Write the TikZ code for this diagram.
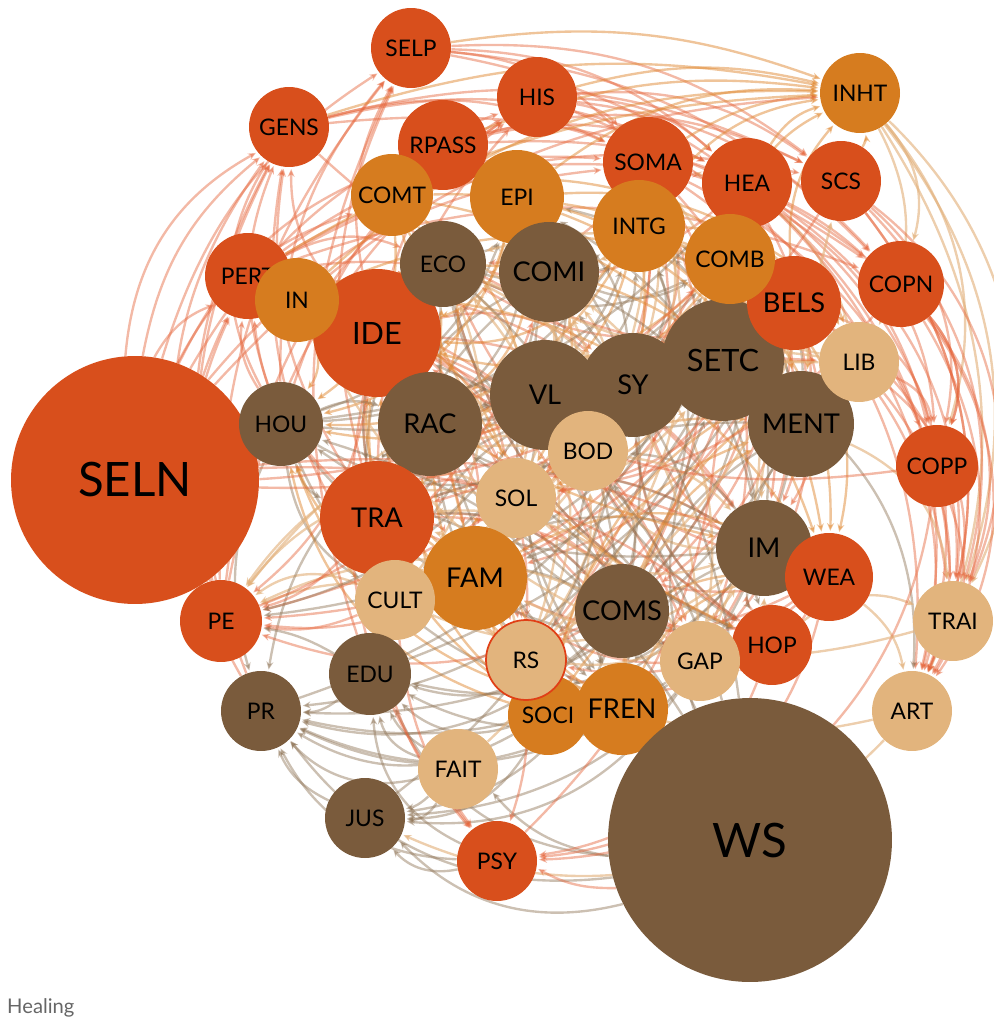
\documentclass[tikz,border=0pt]{standalone}
\usepackage{fontspec}
\setmainfont{Lato}
\usetikzlibrary{arrows.meta}
\pgfdeclarelayer{edges}
\pgfsetlayers{edges,main}
\definecolor{nodered}{HTML}{D84F1C}
\definecolor{nodeorange}{HTML}{D67C1F}
\definecolor{nodebrown}{HTML}{7A5B3C}
\definecolor{nodetan}{HTML}{E2B47D}
\definecolor{edgered}{HTML}{E5643A}
\definecolor{edgeorange}{HTML}{E08A35}
\definecolor{edgebrown}{HTML}{8E7355}
\definecolor{edgetan}{HTML}{E2B07A}
\tikzset{
    bubble/.style={circle, inner sep=0pt, text=black},
    nR/.style={bubble, fill=nodered},
    nO/.style={bubble, fill=nodeorange},
    nB/.style={bubble, fill=nodebrown},
    nT/.style={bubble, fill=nodetan},
    rad/.style={minimum size=#1*0.4mm},
    small/.style={font=\fontsize{13}{13}\selectfont},
    mid/.style={font=\fontsize{15.5}{15.5}\selectfont},
    big/.style={font=\fontsize{17.5}{17.5}\selectfont},
    huge/.style={font=\fontsize{27}{27}\selectfont},
    % connectors, coloured after their source
    link/.style={line width=1.35pt, -{Stealth[length=4.5pt, width=4pt]}, shorten >=1pt},
    eR/.style={link, draw=edgered, opacity=0.45},
    eO/.style={link, draw=edgeorange, opacity=0.5},
    eB/.style={link, draw=edgebrown, opacity=0.45},
    eT/.style={link, draw=edgetan, opacity=0.62}
}
\begin{document}
\begin{tikzpicture}[x=0.02cm, y=-0.02cm]
	\useasboundingbox (0,0) rectangle (993,1020);

	\node[nR, rad=124, huge] (SELN) at (135,480) {SELN};
	\node[nR, rad=40, small] (SELP) at (411,48) {SELP};
	\node[nR, rad=40, small] (HIS) at (537,97) {HIS};
	\node[nR, rad=40, small] (GENS) at (289,127) {GENS};
	\node[nR, rad=45, small] (RPASS) at (443,145) {RPASS};
	\node[nO, rad=41, small] (COMT) at (392,195) {COMT};
	\node[nO, rad=47, small] (EPI) at (517,197) {EPI};
	\node[nR, rad=45, small] (SOMA) at (648,162) {SOMA};
	\node[nR, rad=45, small] (HEA) at (747,183) {HEA};
	\node[nR, rad=40, small] (SCS) at (841,181) {SCS};
	\node[nO, rad=40, small] (INHT) at (860,93) {INHT};
	\node[nO, rad=46, small] (INTG) at (639,226) {INTG};
	\node[nB, rad=50, mid] (COMI) at (549,272) {COMI};
	\node[nR, rad=43, small] (PERT) at (248,276) {PERT};
	\node[nR, rad=64, big] (IDE) at (377,333) {IDE};
	\node[nB, rad=43, small] (ECO) at (443,264) {ECO};
	\node[nO, rad=42, small] (IN) at (297,300) {IN};
	\node[nB, rad=61, big] (SETC) at (723,360) {SETC};
	\node[nR, rad=47, mid] (BELS) at (794,303) {BELS};
	\node[nO, rad=45, small] (COMB) at (730,259) {COMB};
	\node[nR, rad=43, small] (COPN) at (901,284) {COPN};
	\node[nB, rad=53, mid] (MENT) at (801,424) {MENT};
	\node[nT, rad=40, small] (LIB) at (859,362) {LIB};
	\node[nB, rad=55, mid] (VL) at (545,395) {VL};
	\node[nB, rad=52, mid] (SY) at (633,385) {SY};
	\node[nT, rad=40, small] (BOD) at (588,451) {BOD};
	\node[nB, rad=42, small] (HOU) at (281,424) {HOU};
	\node[nB, rad=52, mid] (RAC) at (430,424) {RAC};
	\node[nT, rad=40, small] (SOL) at (516,498) {SOL};
	\node[nR, rad=41, small] (COPP) at (937,466) {COPP};
	\node[nR, rad=57, mid] (TRA) at (377,518) {TRA};
	\node[nO, rad=52, mid] (FAM) at (475,578) {FAM};
	\node[nT, rad=40, small] (CULT) at (395,600) {CULT};
	\node[nB, rad=48, mid] (IM) at (764,548) {IM};
	\node[nR, rad=44, small] (WEA) at (829,577) {WEA};
	\node[nB, rad=47, mid] (COMS) at (622,611) {COMS};
	\node[nR, rad=41, small] (PE) at (221,621) {PE};
	\node[nT, rad=40, small] (TRAI) at (953,621) {TRAI};
	\node[nO, rad=40, small] (SOCI) at (548,715) {SOCI};
	\node[nT, rad=40, small, draw=nodered!80!red, line width=1pt] (RS) at (526,660) {RS};
	\node[nO, rad=46, mid] (FREN) at (622,709) {FREN};
	\node[nR, rad=40, small] (HOP) at (772,645) {HOP};
	\node[nT, rad=40, small] (GAP) at (700,661) {GAP};
	\node[nB, rad=41, small] (EDU) at (370,674) {EDU};
	\node[nB, rad=40, small] (PR) at (261,711) {PR};
	\node[nT, rad=40, small] (ART) at (912,711) {ART};
	\node[nT, rad=40, small] (FAIT) at (458,769) {FAIT};
	\node[nB, rad=40, small] (JUS) at (365,818) {JUS};
	\node[nR, rad=40, small] (PSY) at (497,861) {PSY};
	\node[nB, rad=142, huge] (WS) at (750,840) {WS};

	\node[anchor=base west, text=black!60, font=\fontsize{11.5}{11.5}\selectfont] (credit) at (1,1013) {Healing};

	\begin{pgfonlayer}{edges}
	% outer rings
	\foreach \src in {SELN,PE,TRA,IDE,HOU}
		\foreach \dst in {GENS,SELP,HIS,PERT}
			\draw[eR] (\src) to[bend left=20] (\dst);
	\foreach \src in {GENS,SELP,HIS,RPASS,PERT}
		\foreach \dst in {HEA,SCS,COPN,SOMA}
			\draw[eR] (\src) to[bend left=20] (\dst);
	\foreach \src in {SELP,HIS,RPASS,GENS,SOMA,PERT}
		\draw[eO] (\src) to[bend left=14] (INHT);
	\foreach \dst in {COPN,COPP,LIB,TRAI,ART}
		\draw[eT] (INHT) to[bend left=28] (\dst);
	\foreach \src in {SCS,HEA,COPN,BELS,SOMA,LIB}
		\foreach \dst in {COPP,TRAI,ART}
			\draw[eR] (\src) to[bend left=30] (\dst);
	\foreach \src in {WS,FAIT,PSY,SOCI,GAP,COMS,IM}
		\foreach \dst in {PR,JUS,EDU}
			\draw[eB] (\src) to[bend left=30] (\dst);
	% central tangle
	\foreach \src in {IDE,TRA,HEA,BELS,SOMA,HOP,WEA,PERT}
		\foreach \dst in {COMS,IM,SOL,GAP,RS,ECO,FAM,SY}
			\draw[eR] (\src) to[bend left=25] (\dst);
	\foreach \src in {VL,SY,RAC,COMI,ECO,MENT,IM,COMS,HOU}
		\foreach \dst in {TRA,CULT,BOD,HOP,INTG,EPI,COMB,FREN}
			\draw[eB] (\src) to[bend left=-25] (\dst);
	\foreach \src in {FAM,EPI,INTG,COMB,COMT,IN,FREN,SOCI}
		\foreach \dst in {MENT,RAC,HOU,WEA,SOL,LIB,IDE}
			\draw[eO] (\src) to[bend left=30] (\dst);
	\foreach \src in {BOD,SOL,CULT,GAP,LIB,RS}
		\foreach \dst in {COMI,ECO,TRA,IM,SOMA,PE}
			\draw[eT] (\src) to[bend left=-30] (\dst);
	% single links
	\foreach \src/\dst/\kind/\bnd in {
		SELN/INHT/eR/22, SELN/RPASS/eR/22, SELN/SOMA/eR/22, PR/GENS/eR/24,
		EDU/SELP/eR/22, CULT/GENS/eR/22, PE/HIS/eR/24, SELN/COMT/eR/22,
		PR/PERT/eR/28, PE/GENS/eR/28, SELN/GENS/eR/28, HOU/GENS/eR/30,
		SCS/INHT/eO/-20, HEA/INHT/eO/20, BELS/INHT/eO/22, IN/INHT/eO/22,
		COMB/INHT/eO/24, EPI/INHT/eO/20, INTG/INHT/eO/22,
		SELP/COPP/eR/28, HIS/TRAI/eR/30, SCS/ART/eR/30,
		INHT/TRAI/eT/36, SCS/TRAI/eR/38, COPN/ART/eR/36, HEA/ART/eR/34,
		COPP/ART/eR/25, MENT/TRAI/eT/30, SETC/ART/eB/30, WEA/ART/eT/20,
		HOP/TRAI/eT/30, COPN/COPP/eR/30,
		EDU/PR/eB/20, JUS/PR/eB/20, RAC/PR/eB/-20, HOU/PR/eB/-20,
		SETC/PR/eB/30, MENT/PR/eB/30, FREN/PR/eB/25, ART/JUS/eT/35,
		FAIT/JUS/eB/15, FAIT/EDU/eB/15, WS/FAIT/eB/20,
		WS/PSY/eR/15, HOP/PSY/eR/30, WEA/PSY/eR/35, COPP/PSY/eR/40, RS/PSY/eR/10,
		CULT/PSY/eR/-15, TRA/PSY/eR/-20, IDE/PSY/eR/-25,
		IDE/PE/eR/20, TRA/PE/eR/15, HEA/PE/eR/25, BELS/PE/eR/25, FAM/PE/eR/15,
		COMS/PE/eR/20, SETC/PE/eB/20, VL/PE/eB/20, CULT/PE/eR/15, EDU/PE/eB/-10,
		VL/SETC/eB/20, SY/MENT/eB/20, RAC/VL/eB/20, HOU/RAC/eB/20, ECO/COMS/eB/20,
		COMI/IM/eB/25, SETC/FAM/eB/20, MENT/RAC/eB/-20, IM/HOU/eB/20,
		SOL/SETC/eT/-20, BOD/IM/eT/20, CULT/SY/eT/-20, RS/VL/eT/-20,
		FAIT/BOD/eT/-25, COMT/HOP/eO/-25, IN/IM/eO/-15, SOCI/ECO/eO/15,
		COPN/SOL/eR/20, COPP/IDE/eR/20, SCS/TRA/eR/20, SELN/SETC/eR/-15,
		SELN/WEA/eR/15, SELN/COMB/eR/-20, SELN/HOP/eR/20, PSY/SETC/eR/-20,
		PE/COMI/eR/-25, GENS/LIB/eR/-20,
		WS/IDE/eB/-25, WS/SETC/eB/20, WS/COMI/eB/-15, WS/HOU/eB/-20, WS/RAC/eB/-15,
		JUS/SY/eB/-20, PR/COMB/eB/-25, EDU/BELS/eB/-20, HOU/HEA/eB/-20,
		LIB/COMT/eT/20, TRAI/FAM/eT/20, ART/RS/eT/20, GAP/IN/eT/20,
		RS/SCS/eT/-20}
		\draw[\kind] (\src) to[bend left=\bnd] (\dst);
	\end{pgfonlayer}
\end{tikzpicture}
\end{document}
